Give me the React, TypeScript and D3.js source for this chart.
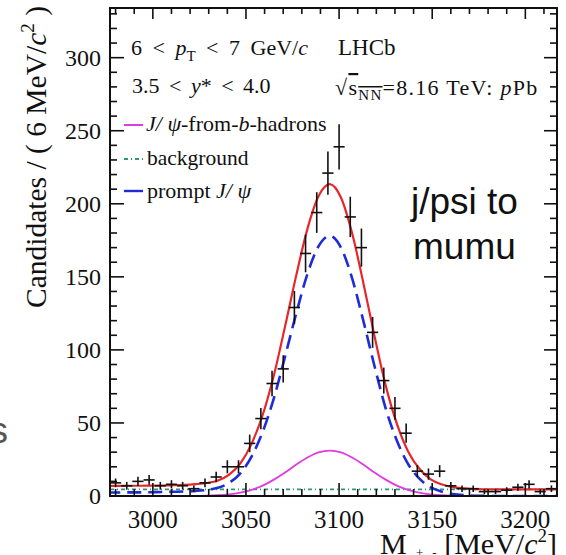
import React from 'react';
import * as d3 from 'd3';

// Binned data (bin centres in MeV/c^2, candidate counts)
const MASS_BINS = [2980, 2986, 2992, 2998, 3004, 3010, 3016, 3022, 3028, 3034, 3040, 3046, 3052, 3058, 3064, 3070, 3076, 3082, 3088, 3094, 3100, 3106, 3112, 3118, 3124, 3130, 3136, 3142, 3148, 3154, 3160, 3166, 3172, 3178, 3184, 3190, 3196, 3202, 3208, 3214];
const COUNTS = [9, 7, 10, 11, 7, 8, 7, 5, 9, 13, 20, 20, 36, 53, 77, 87, 129, 166, 194, 221, 239, 191, 170, 112, 79, 60, 43, 17, 15, 17, 7, 5, 5, 3, 3, 4, 6, 8, 3, 5];

// Fit curves at these masses
const CURVE_MASS = [2975, 2981, 2987, 2993, 2999, 3005, 3011, 3017, 3023, 3029, 3035, 3041, 3047, 3053, 3059, 3065, 3071, 3077, 3083, 3089, 3095, 3101, 3107, 3113, 3119, 3125, 3131, 3137, 3143, 3149, 3155, 3161, 3167, 3173, 3179, 3185, 3191, 3197, 3203, 3209, 3215, 3221];
const TOTAL_FIT = [6.9, 6.9, 7.0, 7.0, 7.1, 7.2, 7.4, 7.6, 8.1, 8.9, 10.6, 14.6, 22.3, 35.7, 55.6, 82.7, 116.1, 151, 182.8, 205.3, 213.5, 204.3, 179.8, 146, 109.6, 75.7, 49.6, 30.7, 18.8, 11.6, 8.0, 6.1, 5.2, 4.7, 4.6, 4.5, 4.5, 4.5, 4.5, 4.5, 4.5, 4.5];
const PROMPT_JPSI = [2.4, 2.4, 2.5, 2.5, 2.6, 2.7, 2.9, 3.1, 3.5, 4.2, 5.6, 9.0, 15.5, 27, 44, 67, 95.5, 125, 152, 171, 178, 170, 149, 120, 89, 60, 38, 22, 12, 6, 3, 1.4, 0.6, 0.2, 0.1, 0, 0, 0, 0, 0, 0, 0];
const FROM_B = [0, 0, 0, 0, 0, 0, 0, 0, 0.1, 0.2, 0.5, 1.1, 2.3, 4.2, 7.1, 11.2, 16.1, 21.5, 26.3, 29.8, 31, 29.8, 26.3, 21.5, 16.1, 11.2, 7.1, 4.2, 2.3, 1.1, 0.5, 0.2, 0.1, 0, 0, 0, 0, 0, 0, 0, 0, 0];
const BKG_MASS = [2977, 3217];
const BKG_LEVEL = [4.5, 4.5];

const X_TICKS = [3000, 3050, 3100, 3150, 3200];
const Y_TICKS = [0, 50, 100, 150, 200, 250, 300];

const W = 566, H = 555;
const L = 110, R = 557, T = 8, B = 496;
const SERIF = '"Liberation Serif", "Times New Roman", serif';
const SANS = '"Liberation Sans", Arial, sans-serif';

export default function App() {
  const x = d3.scaleLinear().domain([2977, 3217]).range([L, R]);
  const y = d3.scaleLinear().domain([0, 334]).range([B, T]);
  const xMinor = d3.range(2980, 3217, 10);
  const yMinor = d3.range(0, 334, 10);

  const mk = (xs: number[], ys: number[]) =>
    d3.line<number>().x((_, i) => x(xs[i])).y((d) => y(d)).curve(d3.curveMonotoneX)(ys) || '';

  const red = '#e8262a';
  const blue = '#1f2bd8';
  const magenta = '#e03ae0';
  const green = '#2a9a78';

  return (
    <svg width={W} height={H} style={{ position: 'absolute', left: 0, top: 0, background: '#fff' }}>
      <defs>
        <clipPath id="plot"><rect x={L} y={T} width={R - L} height={B - T} /></clipPath>
      </defs>
      <rect x={0} y={0} width={W} height={H} fill="#fff" />

      {/* curves */}
      <g clipPath="url(#plot)" fill="none">
        <path d={mk(BKG_MASS, BKG_LEVEL)} stroke={green} strokeWidth={1.8} strokeDasharray="4,3,1,3" />
        <path d={mk(CURVE_MASS, FROM_B)} stroke={magenta} strokeWidth={1.8} />
        <path d={mk(CURVE_MASS, PROMPT_JPSI)} stroke={blue} strokeWidth={2.6} strokeDasharray="14,7" />
        <path d={mk(CURVE_MASS, TOTAL_FIT)} stroke={red} strokeWidth={2.2} />
      </g>

      {/* data points */}
      <g stroke="#111" strokeWidth={1.6}>
        {MASS_BINS.map((m, i) => {
          const v = COUNTS[i];
          const e = Math.sqrt(v);
          return (
            <g key={m}>
              <line x1={x(m)} x2={x(m)} y1={y(v - e)} y2={y(v + e)} />
              <line x1={x(m - 3)} x2={x(m + 3)} y1={y(v)} y2={y(v)} />
            </g>
          );
        })}
      </g>

      {/* frame and ticks */}
      <rect x={L} y={T} width={R - L} height={B - T} fill="none" stroke="#111" strokeWidth={2} />
      <g stroke="#111" strokeWidth={1.6}>
        {xMinor.map((t) => {
          const major = t % 50 === 0;
          return (
            <g key={'x' + t}>
              <line x1={x(t)} x2={x(t)} y1={B} y2={B - (major ? 13 : 7)} />
              <line x1={x(t)} x2={x(t)} y1={T} y2={T + (major ? 11 : 6)} />
            </g>
          );
        })}
        {yMinor.map((t) => {
          const major = t % 50 === 0;
          return (
            <g key={'y' + t}>
              <line x1={L} x2={L + (major ? 14 : 7)} y1={y(t)} y2={y(t)} />
              <line x1={R} x2={R - (major ? 13 : 7)} y1={y(t)} y2={y(t)} />
            </g>
          );
        })}
      </g>

      {/* tick labels */}
      <g fontFamily={SERIF} fill="#111">
        {Y_TICKS.map((t) => (
          <text key={'yl' + t} x={101} y={y(t)} dy="0.35em" fontSize={24} textAnchor="end">{t}</text>
        ))}
        {X_TICKS.map((t) => (
          <text key={'xl' + t} x={x(t)} y={528} fontSize={25} textAnchor="middle">{t}</text>
        ))}
      </g>

      {/* axis titles */}
      <text transform="translate(46,157) rotate(-90)" fontFamily={SERIF} fontSize={29.5} textAnchor="middle" fill="#111">
        Candidates / ( 6 MeV/<tspan fontStyle="italic">c</tspan><tspan dy={-12} fontSize={19}>2</tspan><tspan dy={12}> )</tspan>
      </text>
      <text x={557} y={554} fontFamily={SERIF} fontSize={30} textAnchor="end" fill="#111">
        M<tspan dy={9} fontSize={17}>μ</tspan><tspan dy={-6} fontSize={13}>+</tspan><tspan dy={6} fontSize={17}>μ</tspan><tspan dy={-6} fontSize={13}>-</tspan><tspan dy={-3}> [MeV/</tspan><tspan fontStyle="italic">c</tspan><tspan dy={-12} fontSize={19}>2</tspan><tspan dy={12}>]</tspan>
      </text>

      {/* annotations */}
      <g fontFamily={SERIF} fill="#111">
        <text x={131} y={55} fontSize={22} wordSpacing={5} style={{ whiteSpace: 'pre' }}>
          6 {'<'} <tspan fontStyle="italic">p</tspan><tspan dy={6} fontSize={15}>T</tspan><tspan dy={-6}> {'<'} 7 GeV/</tspan><tspan fontStyle="italic">c</tspan>
        </text>
        <text x={338} y={55} fontSize={23}>LHCb</text>
        <text x={132} y={93} fontSize={22} wordSpacing={4} style={{ whiteSpace: 'pre' }}>
          3.5 {'<'} <tspan fontStyle="italic">y</tspan>* {'<'} 4.0
        </text>
        <text x={335} y={95} fontSize={22} letterSpacing={1.3}>
          √<tspan style={{ textDecoration: 'overline' }}>s<tspan dy={5} fontSize={15}>NN</tspan></tspan><tspan dy={-5}>=8.16 TeV: </tspan><tspan fontStyle="italic">p</tspan>Pb
        </text>

        {/* legend */}
        <line x1={124} x2={143} y1={125} y2={125} stroke={magenta} strokeWidth={2} />
        <text x={146} y={131} fontSize={22}>
          <tspan fontStyle="italic">J/ ψ</tspan>-from-<tspan fontStyle="italic">b</tspan>-hadrons
        </text>
        <line x1={124} x2={143} y1={159} y2={159} stroke={green} strokeWidth={2} strokeDasharray="4,3,1,3" />
        <text x={147} y={165} fontSize={21.5}>background</text>
        <line x1={124} x2={143} y1={191} y2={191} stroke={blue} strokeWidth={2.4} />
        <text x={147} y={198} fontSize={22}>
          prompt <tspan fontStyle="italic">J/ ψ</tspan>
        </text>
      </g>

      {/* overlay notes */}
      <g fontFamily={SANS} fill="#111" fontSize={37}>
        <text x={411} y={214}>j/psi to</text>
        <text x={413} y={259}>mumu</text>
      </g>
      <text x={8} y={443} fontFamily={SANS} fontSize={37} fill="#555" textAnchor="end">s</text>
    </svg>
  );
}
